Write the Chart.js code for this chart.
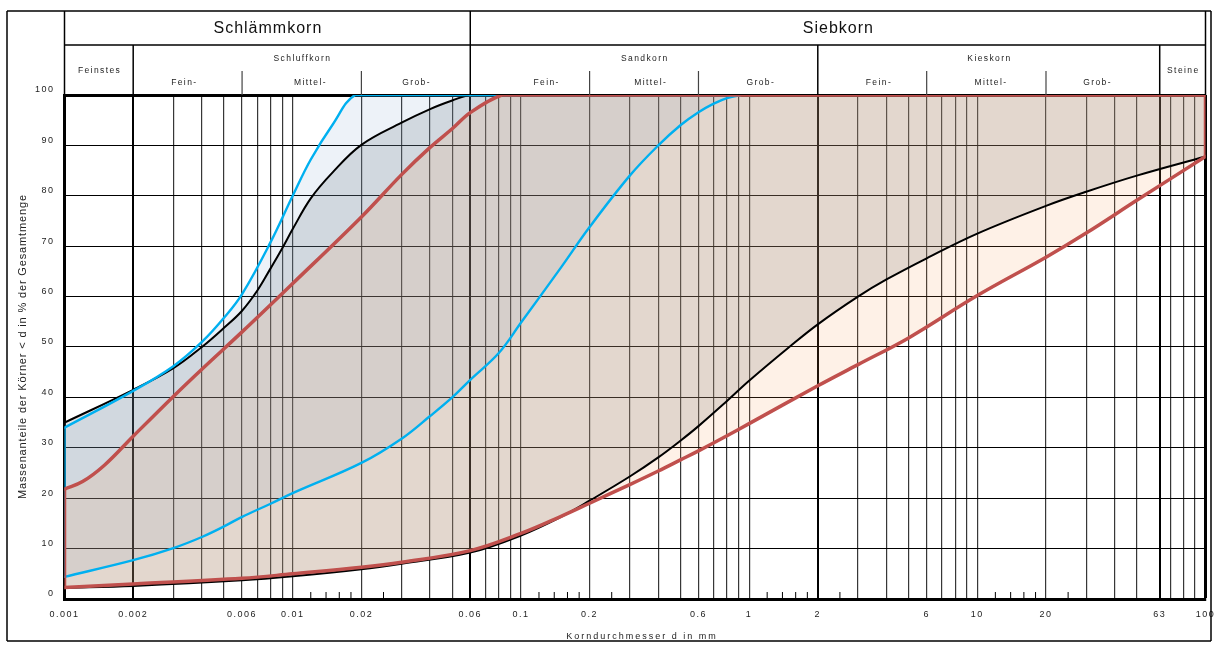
<!DOCTYPE html>
<html>
<head>
<meta charset="utf-8">
<script src="https://cdn.jsdelivr.net/npm/chart.js@4.4.1/dist/chart.umd.min.js"></script>
<style>
  html, body { margin: 0; padding: 0; background: #ffffff; }
  #wrap { position: relative; width: 1215px; height: 646px; }
  canvas { display: block; }
</style>
</head>
<body>
<div id="wrap"><canvas id="c" width="1215" height="646"></canvas></div>
<script>
// ---------------- DATA ----------------
// grain diameter d in mm  /  mass percentage passing
const blueUpperX = [0.001, 0.002, 0.003, 0.004, 0.005, 0.006, 0.008, 0.01, 0.012, 0.015, 0.0188, 0.025, 0.92];
const blueUpperY = [34, 41.3, 46.2, 51, 55.8, 60.5, 70.8, 80, 87.2, 94.2, 100, 100, 100];

const blueLowerX = [0.001, 0.002, 0.003, 0.004, 0.005, 0.006, 0.008, 0.01, 0.02, 0.03, 0.04, 0.05, 0.06, 0.08, 0.1, 0.15, 0.2, 0.3, 0.4, 0.5, 0.6, 0.7, 0.8, 0.92];
const blueLowerY = [4.4, 7.7, 10.1, 12.3, 14.4, 16.3, 18.9, 21.0, 27.0, 31.8, 36.3, 40.0, 43.5, 48.8, 54.8, 65.8, 73.8, 84.0, 90.0, 94.0, 96.6, 98.3, 99.4, 100];

const blackUpperX = [0.001, 0.002, 0.003, 0.004, 0.005, 0.006, 0.007, 0.008, 0.009, 0.01, 0.012, 0.015, 0.02, 0.03, 0.04, 0.05, 0.06, 0.08, 100];
const blackUpperY = [35, 41.5, 45.8, 50, 53.8, 57.2, 61.2, 65.6, 69.6, 73.4, 79.5, 84.7, 90.1, 94.5, 97.2, 98.9, 100, 100, 100];

const blackLowerX = [0.001, 0.002, 0.006, 0.01, 0.02, 0.03, 0.06, 0.1, 0.15, 0.2, 0.3, 0.4, 0.5, 0.6, 0.8, 1, 1.5, 2, 3, 4, 6, 10, 20, 30, 50, 100];
const blackLowerY = [2.2, 2.6, 3.7, 4.5, 5.9, 7.0, 9.2, 12.6, 16.3, 19.5, 24.3, 28.1, 31.4, 34.3, 39.3, 43.3, 50, 54.5, 60, 63.4, 67.6, 72.5, 78, 80.8, 84, 87.8];

const redUpperX = [0.001, 0.0012, 0.0015, 0.002, 0.003, 0.004, 0.006, 0.01, 0.02, 0.03, 0.04, 0.05, 0.06, 0.0824, 0.1, 100];
const redUpperY = [21.8, 23.3, 26.6, 32.3, 40.2, 45.6, 53, 62.6, 75.8, 84.2, 89.6, 93.3, 96.5, 100, 100, 100];

const redLowerX = [0.001, 0.002, 0.006, 0.01, 0.02, 0.03, 0.06, 0.1, 0.15, 0.2, 0.3, 0.4, 0.5, 0.6, 0.8, 1, 2, 3, 5, 10, 20, 30, 50, 100];
const redLowerY = [2.3, 3.0, 4.1, 5.0, 6.3, 7.3, 9.6, 13.0, 16.4, 19.0, 22.7, 25.4, 27.6, 29.4, 32.4, 34.8, 42.3, 46.5, 51.8, 60.2, 67.8, 72.6, 79.1, 87.8];

// ---------------- AXES / TICKS ----------------
const xGridValues = [0.001, 0.002, 0.003, 0.004, 0.005, 0.006, 0.007, 0.008, 0.009,
  0.01, 0.02, 0.03, 0.04, 0.05, 0.06, 0.07, 0.08, 0.09,
  0.1, 0.2, 0.3, 0.4, 0.5, 0.6, 0.7, 0.8, 0.9,
  1, 2, 3, 4, 5, 6, 7, 8, 9,
  10, 20, 30, 40, 50, 63, 70, 80, 90, 100];
const xLabelValues = [0.001, 0.002, 0.006, 0.01, 0.02, 0.06, 0.1, 0.2, 0.6, 1, 2, 6, 10, 20, 63, 100];
const xLabelTexts = ['0.001', '0.002', '0.006', '0.01', '0.02', '0.06', '0.1', '0.2', '0.6', '1', '2', '6', '10', '20', '63', '100'];
const xThickValues = [0.002, 0.06, 2, 63];
const xMinorTicks = [0.012, 0.014, 0.016, 0.018, 0.025, 0.12, 0.14, 0.16, 0.18, 0.25, 1.2, 1.4, 1.6, 1.8, 2.5, 12, 14, 16, 18, 25];
const yTickValues = [0, 10, 20, 30, 40, 50, 60, 70, 80, 90, 100];

// header (soil fractions)
const headerMain = ['Schlämmkorn', 'Siebkorn'];
const headerMainRange = [[0.001, 0.06], [0.06, 100]];
const headerGroup = ['Feinstes', 'Schluffkorn', 'Sandkorn', 'Kieskorn', 'Steine'];
const headerGroupRange = [[0.001, 0.002], [0.002, 0.06], [0.06, 2], [2, 63], [63, 100]];
const headerSub = ['Fein-', 'Mittel-', 'Grob-', 'Fein-', 'Mittel-', 'Grob-', 'Fein-', 'Mittel-', 'Grob-'];
const headerSubRange = [[0.002, 0.006], [0.006, 0.02], [0.02, 0.06], [0.06, 0.2], [0.2, 0.6], [0.6, 2], [2, 6], [6, 20], [20, 63]];

const xTitle = 'Korndurchmesser d in mm';
const yTitle = 'Massenanteile der Körner < d in % der Gesamtmenge';

// ---------------- STYLE ----------------
const FONT = '"Liberation Sans", Arial, Helvetica, sans-serif';
const RED = '#c0504d', BLUE = '#00b0f0', BLACK = '#000000';
const subLabelShift = [-4, 8, 0, 16, 6, 2, 6, 4, -6];   // px nudges of header sub-labels
const pts = (xs, ys) => xs.map((x, i) => ({ x: x, y: ys[i] }));
const same = (a, b) => Math.abs(Math.log10(a) - Math.log10(b)) < 1e-6;
const inList = (v, list) => list.some(l => same(v, l));

const curve = (data, color, width, order, extra) => Object.assign({
  data: data, showLine: true, borderColor: color, borderWidth: width,
  pointRadius: 0, pointHoverRadius: 0, fill: false, order: order,
  tension: 0.38, borderCapStyle: 'round', borderJoinStyle: 'round'
}, extra || {});

const edge = (x0, y0, x1, y1, color, width, order) =>
  curve([{ x: x0, y: y0 }, { x: x1, y: y1 }], color, width, order, { tension: 0 });

const datasets = [
  // 0..3 red envelope (drawn on top)
  curve(pts(redUpperX, redUpperY), RED, 3.5, 1, { fill: 1, backgroundColor: 'rgba(247,150,70,0.13)' }),
  curve(pts(redLowerX, redLowerY), RED, 3.5, 1),
  edge(redLowerX[0], redLowerY[0], redUpperX[0], redUpperY[0], RED, 3.5, 1),
  edge(redLowerX[redLowerX.length - 1], redLowerY[redLowerY.length - 1], redUpperX[redUpperX.length - 1], redUpperY[redUpperY.length - 1], RED, 3.5, 1),
  // 4..6 blue envelope
  curve(pts(blueUpperX, blueUpperY), BLUE, 2.4, 2, { fill: 5, backgroundColor: 'rgba(79,129,189,0.10)' }),
  curve(pts(blueLowerX, blueLowerY), BLUE, 2.4, 2),
  edge(blueLowerX[0], blueLowerY[0], blueUpperX[0], blueUpperY[0], BLUE, 2.4, 2),
  // 7..8 black envelope (drawn first)
  curve(pts(blackUpperX, blackUpperY), BLACK, 2, 3, { fill: 8, backgroundColor: 'rgba(126,134,138,0.24)' }),
  curve(pts(blackLowerX, blackLowerY), BLACK, 2, 3)
];

// ---------------- PLUGINS ----------------
const spacingPlugin = {
  id: 'spacing',
  beforeDraw(chart) { chart.ctx.letterSpacing = '1.5px'; }
};

function drawText(ctx, s, x, y, size, spacing, color) {
  ctx.font = size + 'px ' + FONT;
  ctx.letterSpacing = spacing + 'px';
  ctx.fillStyle = color || '#111';
  ctx.textAlign = 'center';
  ctx.textBaseline = 'middle';
  ctx.fillText(s, x + spacing / 2, y);
}

const framePlugin = {
  id: 'frame',
  afterDraw(chart) {
    const ctx = chart.ctx;
    const xs = chart.scales.x;
    const X = v => xs.getPixelForValue(v);
    const area = chart.chartArea;
    const top = 11, row1 = 45, row2 = 71, pTop = area.top;
    const L = 7, R = 1211, B = 641;
    ctx.save();
    const line = (x1, y1, x2, y2, w, c) => {
      ctx.beginPath(); ctx.lineWidth = w; ctx.strokeStyle = c || '#000';
      ctx.moveTo(x1, y1); ctx.lineTo(x2, y2); ctx.stroke();
    };
    // outer frame
    line(L, top, R, top, 1.5);
    line(L, top, L, B, 1.5);
    line(R, top, R, B, 1.5);
    line(L, B, R, B, 1.5);
    // header grid
    line(X(0.001), top, X(0.001), pTop, 1.5);
    line(X(100), top, X(100), pTop, 1.5);
    line(X(0.001), row1, X(100), row1, 1.5);
    line(X(0.06), top, X(0.06), pTop, 1.5);
    [0.002, 2, 63].forEach(v => line(X(v), row1, X(v), pTop, 1.5));
    [0.006, 0.02, 0.2, 0.6, 6, 20].forEach(v => line(X(v), row2, X(v), pTop, 1.2, '#444'));
    // minor ticks at the bottom
    xMinorTicks.forEach(v => line(X(v), area.bottom - 1, X(v), area.bottom - 7, 1, '#000'));
    // header texts
    headerMain.forEach((s, i) => {
      const r = headerMainRange[i];
      drawText(ctx, s, (X(r[0]) + X(r[1])) / 2, (top + row1) / 2 + 1, 16, 1, '#111');
    });
    headerGroup.forEach((s, i) => {
      const r = headerGroupRange[i];
      const single = (i === 0 || i === 4);
      drawText(ctx, s, (X(r[0]) + X(r[1])) / 2, single ? 71 : 59, 8.5, 1.4, '#222');
    });
    headerSub.forEach((s, i) => {
      const r = headerSubRange[i];
      drawText(ctx, s, (X(r[0]) + X(r[1])) / 2 + subLabelShift[i], 83, 8.5, 1.4, '#222');
    });
    // axis titles
    drawText(ctx, xTitle, (area.left + area.right) / 2 + 6, 637, 9, 2, '#222');
    ctx.save();
    ctx.translate(23, (area.top + area.bottom) / 2);
    ctx.rotate(-Math.PI / 2);
    drawText(ctx, yTitle, 0, 0, 11, 0.85, '#222');
    ctx.restore();
    ctx.restore();
  }
};

// ---------------- CHART ----------------
new Chart(document.getElementById('c'), {
  type: 'scatter',
  data: { datasets: datasets },
  plugins: [spacingPlugin, framePlugin],
  options: {
    responsive: false,
    devicePixelRatio: 1,
    animation: false,
    layout: { padding: { left: 0, right: 9.5, top: 95, bottom: 0 } },
    plugins: {
      legend: { display: false },
      tooltip: { enabled: false },
      filler: { drawTime: 'beforeDatasetsDraw' }
    },
    scales: {
      x: {
        type: 'logarithmic',
        min: 0.001, max: 100,
        afterBuildTicks: s => { s.ticks = xGridValues.map(v => ({ value: v })); },
        afterFit: s => { s.height = 47; s.paddingLeft = 0; s.paddingRight = 0; },
        ticks: {
          autoSkip: false, maxRotation: 0, minRotation: 0, padding: 10,
          color: '#222', font: { family: FONT, size: 9 },
          callback: (v) => {
            const i = xLabelValues.findIndex(l => same(l, v));
            return i >= 0 ? xLabelTexts[i] : '';
          }
        },
        grid: {
          drawTicks: false,
          color: c => {
            const v = c.tick ? c.tick.value : 0;
            if (inList(v, xThickValues) || same(v, 100)) return '#000';
            return 'rgba(20,20,20,0.85)';
          },
          lineWidth: c => {
            const v = c.tick ? c.tick.value : 0;
            if (same(v, 100)) return 3;
            if (inList(v, xThickValues)) return 2;
            return 1.2;
          }
        },
        border: { display: true, color: '#000', width: 3 }
      },
      y: {
        min: 0, max: 100,
        afterBuildTicks: s => { s.ticks = yTickValues.map(v => ({ value: v })); },
        afterFit: s => { s.width = 64.5; s.paddingTop = 0; s.paddingBottom = 0; },
        ticks: { padding: 10, labelOffset: -5, color: '#222', font: { family: FONT, size: 9 } },
        grid: {
          drawTicks: false,
          color: '#000',
          lineWidth: c => (c.tick && c.tick.value === 100 ? 3 : 1.1)
        },
        border: { display: true, color: '#000', width: 3 }
      }
    }
  }
});
</script>
</body>
</html>
